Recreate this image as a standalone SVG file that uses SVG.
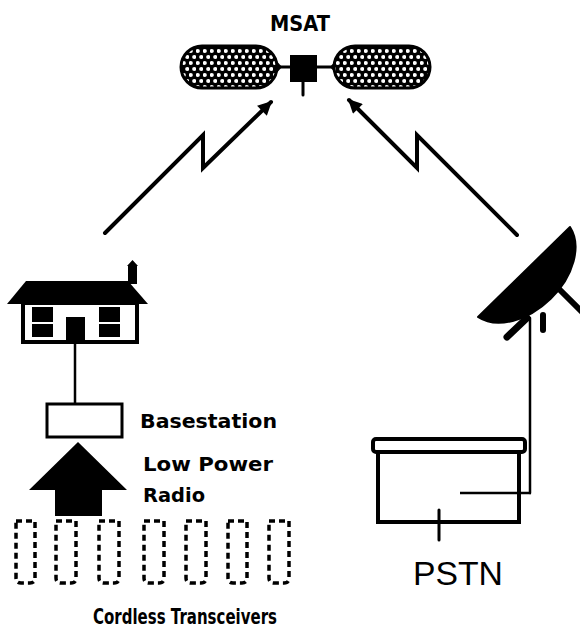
<svg xmlns="http://www.w3.org/2000/svg" width="580" height="630" viewBox="0 0 580 630">
  <style>
    .lbl { font-family: "DejaVu Sans", "Liberation Sans", sans-serif; font-weight: bold; fill: #000; }
    .plain { font-family: "Liberation Sans", Arial, sans-serif; fill: #000; }
    .ink { fill: none; stroke: #000; stroke-linecap: round; stroke-linejoin: round; }
    .zig { fill: none; stroke: #000; stroke-width: 4; stroke-linejoin: miter; stroke-linecap: round; }
    .handset { fill: none; stroke: #000; stroke-width: 3.5; stroke-dasharray: 6 4; }
  </style>
  <defs>
    <!-- dotted solar-panel fill -->
    <pattern id="dots" width="7" height="12" patternUnits="userSpaceOnUse">
      <rect width="7" height="12" fill="#000"/>
      <circle cx="1.75" cy="3" r="2.1" fill="#fff"/>
      <circle cx="5.25" cy="9" r="2.1" fill="#fff"/>
    </pattern>
    <marker id="head" viewBox="0 0 10 10" refX="9" refY="5" markerWidth="15" markerHeight="14" markerUnits="userSpaceOnUse" orient="auto">
      <path d="M0,0 L10,5 L0,10 z" fill="#000"/>
    </marker>
  </defs>

  <!-- satellite -->
  <g id="msat">
    <text class="lbl" x="300" y="31" font-size="22" text-anchor="middle" textLength="60" lengthAdjust="spacingAndGlyphs">MSAT</text>
    <line class="ink" x1="270" y1="67" x2="336" y2="67" stroke-width="3"/>
    <path d="M274,58 L282,67 L274,76 z" fill="#000"/>
    <path d="M338,58 L330,67 L338,76 z" fill="#000"/>
    <rect x="181" y="46" width="96" height="42" rx="21" fill="url(#dots)" stroke="#000" stroke-width="3"/>
    <rect x="334" y="46" width="96" height="42" rx="21" fill="url(#dots)" stroke="#000" stroke-width="3"/>
    <rect x="290" y="55" width="27" height="27" fill="#000"/>
    <line class="ink" x1="303" y1="82" x2="303" y2="95" stroke-width="3"/>
  </g>

  <!-- radio links -->
  <g id="links">
    <path class="zig" d="M105,233 L203,135 L203,168 L271,102" marker-end="url(#head)"/>
    <path class="zig" d="M517,235 L417,135 L417,168 L349,100" marker-end="url(#head)"/>
    <line class="ink" x1="75" y1="342" x2="75" y2="403" stroke-width="2.5"/>
    <line class="ink" x1="530" y1="318" x2="530" y2="493" stroke-width="2.5"/>
  </g>

  <!-- house -->
  <g id="house">
    <path d="M127,266 L132.5,260 L138,266 L137,266 L137,284 L128,284 L128,266 z" fill="#000"/>
    <path d="M7,304 L26,281 L128,281 L148,304 z" fill="#000"/>
    <rect x="23" y="303" width="114" height="39" fill="#fff" stroke="#000" stroke-width="4"/>
    <rect x="32" y="307" width="21" height="15" fill="#000"/>
    <rect x="32" y="324" width="21" height="13" fill="#000"/>
    <rect x="99" y="307" width="21" height="15" fill="#000"/>
    <rect x="99" y="324" width="21" height="13" fill="#000"/>
    <rect x="66" y="317" width="19" height="26" fill="#000"/>
  </g>

  <!-- base station -->
  <g id="basestation">
    <rect x="47" y="404" width="75" height="33" fill="#fff" stroke="#000" stroke-width="3"/>
    <text class="lbl" x="140" y="428" font-size="20" textLength="137" lengthAdjust="spacingAndGlyphs">Basestation</text>
  </g>

  <!-- low power radio arrow -->
  <g id="radio">
    <path d="M78,442 L127,490 L102,490 L102,516 L55,516 L55,490 L29,490 z" fill="#000"/>
    <text class="lbl" x="143" y="471" font-size="20" textLength="130" lengthAdjust="spacingAndGlyphs">Low Power</text>
    <text class="lbl" x="143" y="502" font-size="20" textLength="62" lengthAdjust="spacingAndGlyphs">Radio</text>
  </g>

  <!-- cordless handsets -->
  <g id="handsets">
    <path class="handset" d="M16,521 H35 V578 Q35,583 30,583 H21 Q16,583 16,578 z"/>
    <path class="handset" d="M56,521 H76 V578 Q76,583 71,583 H61 Q56,583 56,578 z"/>
    <path class="handset" d="M99,521 H119 V578 Q119,583 114,583 H104 Q99,583 99,578 z"/>
    <path class="handset" d="M144,521 H164 V578 Q164,583 159,583 H149 Q144,583 144,578 z"/>
    <path class="handset" d="M186,521 H206 V578 Q206,583 201,583 H191 Q186,583 186,578 z"/>
    <path class="handset" d="M228,521 H247 V578 Q247,583 242,583 H233 Q228,583 228,578 z"/>
    <path class="handset" d="M269,521 H289 V578 Q289,583 284,583 H274 Q269,583 269,578 z"/>
    <text class="lbl" x="93" y="624" font-size="22" textLength="184" lengthAdjust="spacingAndGlyphs">Cordless Transceivers</text>
  </g>

  <!-- earth station dish -->
  <g id="dish">
    <path d="M478,317 L570,227 A65 44 -44 0 1 478,317 z" fill="#000" stroke="#000" stroke-width="2" stroke-linejoin="round"/>
    <line class="ink" x1="560" y1="290" x2="582" y2="312" stroke-width="6"/>
    <line class="ink" x1="527" y1="318" x2="507" y2="337" stroke-width="7"/>
    <line class="ink" x1="543" y1="315" x2="543" y2="330" stroke-width="6"/>
  </g>

  <!-- public network -->
  <g id="pstn">
    <rect x="378" y="452" width="141" height="70" fill="#fff" stroke="#000" stroke-width="4"/>
    <rect x="373" y="439" width="152" height="13" rx="3" fill="#fff" stroke="#000" stroke-width="4"/>
    <line x1="460" y1="493" x2="531" y2="493" stroke="#000" stroke-width="2.5"/>
    <line class="ink" x1="439" y1="510" x2="439" y2="540" stroke-width="3"/>
    <text class="plain" x="413" y="585" font-size="34" textLength="90" lengthAdjust="spacingAndGlyphs">PSTN</text>
  </g>
</svg>
